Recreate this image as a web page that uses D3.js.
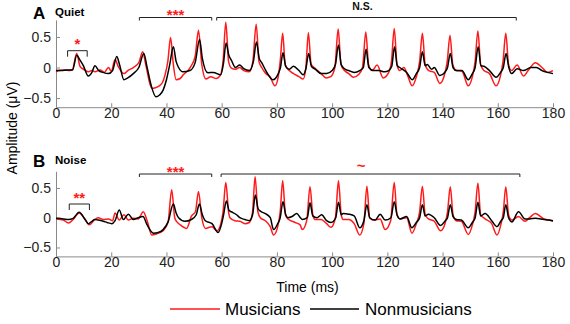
<!DOCTYPE html>
<html>
<head>
<meta charset="utf-8">
<script src="https://cdn.jsdelivr.net/npm/d3@7"></script>
<style>
  body { margin: 0; background: #fff; }
  text { font-family: Arial, "Liberation Sans", sans-serif; }
</style>
</head>
<body>
<div id="chart"></div>
<script>
// ---- data: [time ms, amplitude uV] ----
const quietMusicians = [
  [0,-0.07],[1,-0.05],[3,-0.04],[5,-0.05],[6,-0.03],[7.5,0.23],[8.7,0.02],[10,-0.03],[11.7,-0.07],[13,-0.05],
  [14.1,-0.07],[16,-0.04],[17.5,-0.08],[19,0.0],[20,-0.06],[21.4,0.13],[22.5,0.02],[24.6,-0.1],[26,-0.05],[28,0.0],
  [30,0.08],[31.4,0.26],[32.5,0.05],[34.7,-0.34],[36,-0.33],[37.4,-0.3],[38.5,-0.25],[39.5,-0.12],[40.5,0.1],[41.5,0.49],
  [42.5,0.05],[43.5,-0.2],[45,-0.18],[46.1,-0.12],[48.6,0.0],[50.4,0.18],[51.6,0.61],[52.8,0.05],[54.3,-0.19],[56,-0.15],
  [58,-0.18],[59.6,-0.12],[60.5,0.1],[61.5,0.74],[62.5,0.1],[63.5,-0.01],[65,-0.03],[66.5,0.0],[68,-0.05],[70,-0.07],
  [71.3,0.1],[72.5,0.71],[73.5,0.1],[74.5,0.0],[76,-0.1],[77.5,-0.15],[79.3,-0.3],[80.5,-0.15],[81.2,0.1],[82.1,0.56],
  [83,0.05],[84.5,-0.05],[86,-0.1],[88,-0.15],[89.5,-0.19],[90.5,0.0],[91.4,0.57],[92.4,0.05],[94,-0.02],[96,-0.1],
  [97.8,-0.17],[99.5,-0.15],[101,0.0],[102.2,0.63],[103.2,0.05],[104.5,-0.05],[106,-0.1],[107.8,-0.16],[109.5,-0.12],[111,0.0],
  [112.2,0.58],[113.2,0.05],[114.5,-0.05],[116.3,0.04],[118.5,-0.17],[120.5,-0.08],[121.5,0.1],[122.5,0.64],[123.5,0.05],[124.5,-0.05],
  [126,0.0],[127.5,-0.15],[129,-0.3],[130.5,-0.15],[131.7,0.1],[132.7,0.56],[133.7,0.05],[135,-0.05],[137,-0.08],[139,-0.26],
  [140.5,-0.15],[141.7,0.1],[142.7,0.53],[143.7,0.05],[145,-0.05],[147,-0.06],[149.3,-0.3],[150.8,-0.15],[151.8,0.1],[152.8,0.6],
  [153.8,0.05],[155,-0.05],[157,-0.1],[159.4,-0.3],[160.9,-0.15],[161.9,0.1],[162.9,0.56],[163.9,0.05],[165,-0.05],[167,0.04],
  [169.3,-0.14],[171,-0.05],[173.6,0.08],[176,0.0],[178,-0.08],[180,-0.05]
];
const quietNonmusicians = [
  [0,-0.05],[2,-0.05],[4,-0.04],[6,-0.04],[7.5,0.2],[8.7,0.12],[9.9,0.03],[11.7,-0.14],[13,-0.08],[14.1,0.03],
  [15.5,-0.05],[17,-0.08],[19,-0.1],[20.5,-0.05],[22,0.18],[23,0.05],[24.6,-0.2],[26,-0.17],[28,-0.1],[30,0.0],
  [31.8,0.23],[33,0.0],[34.5,-0.3],[36.2,-0.48],[37.5,-0.45],[38.8,-0.37],[40,-0.2],[41.2,0.05],[42.5,0.34],[43.5,0.1],
  [44.4,0.0],[46,-0.07],[48.5,-0.05],[50.4,0.08],[52,0.46],[53,0.15],[55,-0.085],[57,-0.08],[59.6,-0.12],[60.6,0.05],
  [61.6,0.4],[62.6,0.2],[63.5,0.12],[65,0.0],[66.5,0.04],[68,-0.02],[70,-0.05],[71.5,0.1],[72.6,0.42],[73.6,0.15],
  [74.5,0.08],[76,-0.05],[78.6,-0.2],[80.5,-0.1],[81.3,0.0],[82.2,0.24],[83.2,0.02],[84.5,-0.03],[86,0.02],[88,-0.05],
  [89.5,-0.12],[90.5,-0.02],[91.5,0.23],[92.5,0.02],[94,-0.03],[96,-0.1],[98,-0.1],[100,-0.05],[101.2,0.05],[102.3,0.37],
  [103.3,0.05],[104.5,-0.02],[106,-0.05],[108,-0.08],[110,-0.05],[111.3,0.0],[112.3,0.3],[113.3,0.0],[115,-0.05],[117,-0.05],
  [119,-0.07],[120.5,-0.05],[121.6,0.02],[122.6,0.34],[123.6,0.03],[124.5,0.0],[127,-0.08],[129,-0.2],[130.5,-0.1],[131.7,0.0],
  [132.7,0.26],[133.7,0.03],[134.5,0.05],[136,-0.03],[137,0.0],[139,-0.13],[140.8,-0.08],[141.8,0.0],[142.8,0.23],[143.8,0.0],
  [145,-0.05],[147,-0.05],[149.3,-0.2],[150.8,-0.1],[151.8,0.0],[152.9,0.34],[153.9,0.03],[155,0.02],[157,-0.05],[159.4,-0.16],
  [161,-0.08],[162,0.0],[163,0.23],[164,0.0],[165,-0.1],[167,-0.02],[169.3,-0.05],[172,0.0],[174,0.0],[176,-0.05],
  [178,-0.08],[180,-0.1]
];
const noiseMusicians = [
  [0,-0.02],[2.7,-0.04],[4.5,-0.09],[6.2,-0.03],[8.4,0.08],[10.5,-0.02],[12,-0.12],[14.1,-0.03],[15.3,0.0],[17.1,-0.03],
  [19,-0.02],[20.5,-0.05],[21.4,0.08],[22.9,-0.04],[24.6,0.05],[26.2,-0.04],[28,-0.01],[29.8,-0.02],[31.6,0.1],[33,-0.05],
  [34.7,-0.29],[36.5,-0.27],[38.8,-0.22],[40.6,-0.07],[41.9,0.47],[43,0.0],[43.8,-0.07],[45,-0.12],[47.3,-0.18],[49.1,0.03],
  [50.5,0.1],[51.6,0.44],[52.8,0.0],[54.1,-0.18],[56.5,-0.15],[58.3,-0.22],[59.7,-0.1],[60.5,0.1],[61.5,0.59],[62.5,0.1],
  [63,0.0],[64.8,-0.05],[66.6,-0.06],[68.4,-0.1],[70,-0.08],[71.2,0.1],[72.1,0.69],[73.1,0.1],[74,0.0],[75.8,-0.05],
  [77.6,-0.15],[78.8,-0.29],[80.3,-0.15],[81.2,0.1],[82.1,0.62],[83.1,0.05],[84,-0.02],[86.6,-0.08],[88.4,-0.12],[89.2,-0.2],
  [90.8,-0.05],[92,0.52],[93,0.05],[93.8,-0.03],[96,-0.03],[98,-0.1],[99.6,-0.16],[101.2,0.0],[102.3,0.62],[103.3,0.05],
  [104,-0.03],[106,-0.03],[108,-0.1],[110,-0.29],[111.5,-0.1],[112.6,0.53],[113.6,0.0],[115,-0.04],[117.4,-0.02],[119.2,-0.2],
  [121.2,-0.05],[122.5,0.59],[123.5,0.05],[124.6,-0.02],[127,0.0],[128.9,-0.26],[130.5,-0.1],[131.7,0.1],[132.7,0.53],[133.7,0.05],
  [134.9,-0.02],[137,-0.06],[139.3,-0.22],[141,-0.08],[141.8,0.1],[142.8,0.52],[143.8,0.05],[145,-0.05],[146.8,-0.06],[149.3,-0.28],
  [150.8,-0.12],[151.8,0.1],[152.8,0.58],[153.8,0.05],[155.4,-0.02],[157.8,-0.1],[159.7,-0.29],[161.2,-0.1],[162,0.1],[162.9,0.52],
  [163.9,0.05],[165.1,-0.04],[167.5,0.02],[169.9,-0.06],[171.5,0.0],[173.6,0.07],[176.7,-0.02],[178.5,-0.04],[180,-0.06]
];
const noiseNonmusicians = [
  [0,-0.01],[2.7,-0.02],[4.5,-0.03],[6.2,-0.01],[8.4,0.09],[10.5,-0.03],[11.7,-0.1],[13,-0.06],[14.1,-0.03],[15.3,-0.04],
  [17.1,-0.06],[18.5,-0.08],[20.2,-0.1],[21.4,-0.05],[22.9,0.13],[24.4,-0.03],[26.2,0.06],[28,-0.03],[29.8,0.0],[31.5,0.02],
  [33,-0.12],[35.3,-0.26],[37,-0.25],[38.8,-0.2],[40.6,-0.07],[42.5,0.23],[43.5,0.08],[44.4,0.0],[46.7,-0.06],[49,-0.03],
  [50.8,0.05],[51.9,0.23],[53,0.05],[54.1,-0.05],[56.5,-0.1],[58.7,-0.25],[60,-0.1],[60.7,0.05],[61.7,0.28],[62.7,0.12],
  [63.5,0.1],[65.4,0.05],[66.6,0.0],[68.4,-0.03],[70,-0.05],[71.2,0.05],[72.2,0.38],[73.2,0.15],[74,0.11],[75.8,0.07],
  [77.6,0.0],[78.8,-0.2],[80.3,-0.1],[81.2,0.0],[82.2,0.27],[83.2,0.05],[84,0.0],[85.5,0.02],[87.2,0.07],[88.5,0.0],
  [89.2,-0.03],[91,0.0],[92,0.25],[93,0.03],[94.5,0.0],[96.2,0.05],[98,-0.05],[99.6,-0.08],[101.3,0.0],[102.3,0.26],
  [103.3,0.05],[104,0.07],[106,0.06],[108,0.03],[110,-0.17],[111.5,-0.05],[112.6,0.22],[113.6,0.0],[115.6,-0.04],[117.4,0.06],
  [119.2,-0.04],[121.3,0.0],[122.5,0.27],[123.5,0.05],[124.6,-0.02],[127,0.02],[128.9,-0.17],[130.5,-0.08],[131.7,0.0],[132.7,0.22],
  [133.7,0.03],[134.9,0.06],[137,0.0],[139.3,-0.13],[141,-0.05],[141.8,0.0],[142.8,0.22],[143.8,0.02],[145,-0.03],[146.8,-0.04],
  [149.3,-0.17],[150.8,-0.08],[151.8,0.0],[152.8,0.26],[153.8,0.03],[155.4,0.07],[157.8,-0.05],[159.7,-0.15],[161.2,-0.05],[162,0.0],
  [162.9,0.22],[163.9,0.0],[165.1,-0.07],[167.5,0.1],[169.9,-0.02],[171.5,-0.02],[173.6,-0.01],[176.7,-0.03],[178.5,-0.04],[180,-0.05]
];

// significance brackets: [start ms, end ms, label]
const quietBrackets = [[4.2, 11.3, "*"], [30.2, 56.4, "***"], [58.2, 166.7, "N.S."]];
const noiseBrackets = [[4.8, 12.1, "**"], [30.2, 56.4, "***"], [59.8, 168, "~"]];

const xTicks = [0, 20, 40, 60, 80, 100, 120, 140, 160, 180];
const yTicks = [-0.5, 0, 0.5];
const seriesNames = ["Musicians", "Nonmusicians"];

// ---- drawing ----
const W = 570, H = 324;
const svg = d3.select("#chart").append("svg")
  .attr("width", W).attr("height", H);

const x = d3.scaleLinear().domain([0, 180]).range([56, 553]);

const panels = [
  {letter: "A", title: "Quiet", yr: [107.2, 19.9], red: quietMusicians, black: quietNonmusicians,
   brackets: quietBrackets, titleY: 18.5, bigY: 17.5, smallY: 50.7, labelAt: [43.3, 111]},
  {letter: "B", title: "Noise", yr: [256.4, 171.3], red: noiseMusicians, black: noiseNonmusicians,
   brackets: noiseBrackets, titleY: 166.5, bigY: 174, smallY: 204, labelAt: [43.3, 110.5]}
];

panels.forEach(p => {
  const y = d3.scaleLinear().domain([-0.65, 0.78]).range(p.yr);

  // axes (matlab style: inward ticks, grey lines)
  const gx = svg.append("g")
    .attr("transform", `translate(0,${p.yr[0]})`)
    .call(d3.axisBottom(x).tickValues(xTicks).tickSizeInner(-4).tickSizeOuter(0).tickPadding(1));
  const gy = svg.append("g")
    .attr("transform", `translate(${x(0)},0)`)
    .call(d3.axisLeft(y).tickValues(yTicks).tickSizeInner(-4).tickSizeOuter(0).tickPadding(5)
      .tickFormat(d => d === 0 ? "0" : d3.format(".1f")(d)));
  [gx, gy].forEach(g => {
    g.selectAll("path, line").attr("stroke", "#8a8a8a");
    g.selectAll("text").attr("font-size", 14).attr("fill", "#222")
      .style("font-family", "Arial, 'Liberation Sans', sans-serif");
  });

  const line = d3.line()
    .x(d => x(d[0]))
    .y(d => y(d[1]))
    .curve(d3.curveMonotoneX);

  svg.append("path").datum(p.red)
    .attr("fill", "none").attr("stroke", "#ff1a1a").attr("stroke-width", 1.5)
    .attr("d", line);
  svg.append("path").datum(p.black)
    .attr("fill", "none").attr("stroke", "#000").attr("stroke-width", 1.5)
    .attr("d", line);

  // panel letter + condition
  svg.append("text").attr("x", 33).attr("y", p.titleY)
    .attr("font-size", 17).attr("font-weight", "bold").text(p.letter);
  svg.append("text").attr("x", 55).attr("y", p.titleY - 3)
    .attr("font-size", 11.5).attr("font-weight", "bold").text(p.title);

  // brackets
  p.brackets.forEach((b, i) => {
    const small = i === 0;
    const by = small ? p.smallY : p.bigY;
    const drop = small ? 6 : 3;
    svg.append("path")
      .attr("d", `M${x(b[0])},${by + drop}V${by}H${x(b[1])}V${by + drop}`)
      .attr("fill", "none").attr("stroke", "#222").attr("stroke-width", 1);
    const cx = small ? (x(b[0]) + x(b[1])) / 2 : x(p.labelAt[i - 1]);
    const isNS = b[2] === "N.S.";
    const isTilde = b[2] === "~";
    svg.append("text")
      .attr("x", cx)
      .attr("y", isNS ? by - 7.5 : isTilde ? by - 3 : by - 0.5 + (small ? -1 : 3))
      .attr("text-anchor", "middle")
      .attr("font-weight", "bold")
      .attr("font-size", isNS ? 10.5 : 15)
      .attr("fill", isNS ? "#111" : "#ff1a1a")
      .text(b[2]);
  });
});

// axis titles
svg.append("text")
  .attr("transform", "translate(17,128) rotate(-90)")
  .attr("text-anchor", "middle").attr("font-size", 14)
  .text("Amplitude (\u03BCV)");
svg.append("text")
  .attr("x", 307.5).attr("y", 291.5)
  .attr("text-anchor", "middle").attr("font-size", 14)
  .text("Time (ms)");

// legend
const legendX = [[170, 220, 225], [310, 359, 365]];
["#ff1a1a", "#000"].forEach((c, i) => {
  svg.append("line")
    .attr("x1", legendX[i][0]).attr("x2", legendX[i][1])
    .attr("y1", 309).attr("y2", 309)
    .attr("stroke", c).attr("stroke-width", 1.5);
  svg.append("text")
    .attr("x", legendX[i][2]).attr("y", 314.5)
    .attr("font-size", 17).text(seriesNames[i]);
});
</script>
</body>
</html>
